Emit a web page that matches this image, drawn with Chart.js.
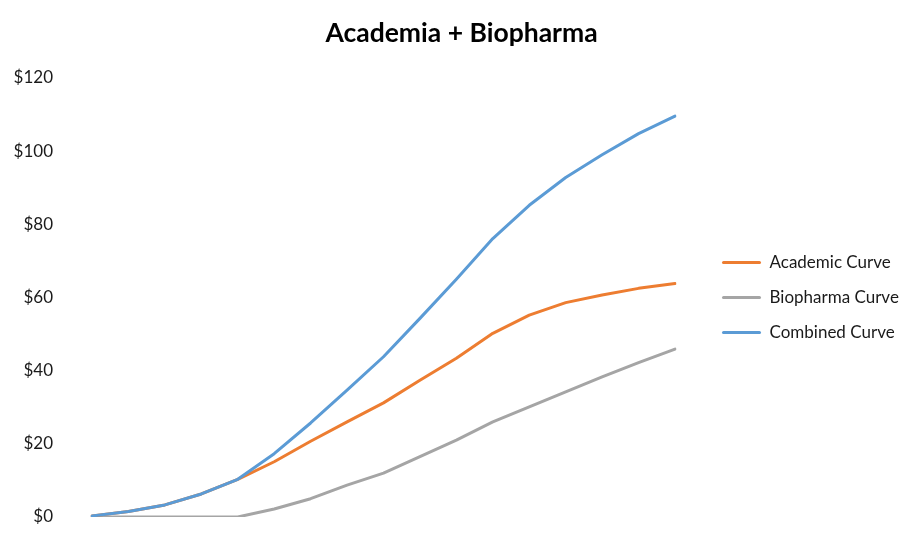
<!DOCTYPE html>
<html>
<head>
<meta charset="utf-8">
<script src="https://cdn.jsdelivr.net/npm/chart.js@4"></script>
<style>
  html, body { margin: 0; padding: 0; background: #fff; }
  #wrap { width: 923px; height: 541px; }
</style>
</head>
<body>
<div id="wrap"><canvas id="c" width="923" height="541"></canvas></div>
<script>
const categories = ['1','2','3','4','5','6','7','8','9','10','11','12','13','14','15','16','17'];
const academic   = [0.3, 1.5, 3.3, 6.3, 10.3, 15.1, 20.7, 26.0, 31.2, 37.4, 43.4, 50.2, 55.2, 58.6, 60.7, 62.5, 63.8];
const biopharma  = [0, 0, 0, 0, 0, 2.2, 5.0, 8.7, 12.0, 16.5, 21.0, 26.0, 30.1, 34.2, 38.3, 42.2, 45.9];
const combined   = [0.3, 1.5, 3.3, 6.3, 10.3, 17.3, 25.7, 34.7, 43.8, 54.3, 65.0, 76.1, 85.2, 92.8, 99.0, 104.8, 109.6];
const seriesNames = ['Academic Curve', 'Biopharma Curve', 'Combined Curve'];
const yTicks = [0, 20, 40, 60, 80, 100, 120];

const colors = ['#ED7D31', '#A5A5A5', '#5B9BD5'];
const FONT = 'Lato';
const TEXT = '#1a1a1a';

// Layout helpers (sizes, not data)
const PLOT_RIGHT = 675;      // right end of plotted series
const LEGEND_GAP = 29;       // gap between plot end and legend content

const legendGap = {
  id: 'legendGap',
  beforeLayout(chart) {
    const lg = chart.legend;
    if (!lg || lg._gapPatched) return;
    const fit = lg.fit;
    lg.fit = function () {
      fit.call(this);
      if (!this.isHorizontal()) this.width = chart.width - PLOT_RIGHT;
    };
    const drawName = typeof lg._draw === 'function' ? '_draw' : 'draw';
    const d = lg[drawName];
    lg[drawName] = function () {
      this.left += LEGEND_GAP;
      try { d.apply(this, arguments); } finally { this.left -= LEGEND_GAP; }
    };
    lg._gapPatched = true;
  }
};

const mk = (label, data, color, order) => ({
  label, data, borderColor: color, backgroundColor: color,
  borderWidth: 3, pointRadius: 0, pointHoverRadius: 0, tension: 0,
  borderCapStyle: 'round', borderJoinStyle: 'round', fill: false, order
});

new Chart(document.getElementById('c'), {
  type: 'line',
  data: {
    labels: categories,
    datasets: [
      mk(seriesNames[0], academic, colors[0], 1),
      mk(seriesNames[1], biopharma, colors[1], 2),
      mk(seriesNames[2], combined, colors[2], 0)
    ]
  },
  plugins: [legendGap],
  options: {
    responsive: false,
    animation: false,
    events: [],
    layout: { padding: { left: 0, right: 0, top: 0, bottom: 24 } },
    plugins: {
      title: {
        display: true,
        text: 'Academia + Biopharma',
        color: '#000',
        font: { family: FONT, size: 26.5, weight: 'bold' },
        padding: { top: 18, bottom: 28.2 }
      },
      legend: {
        position: 'right',
        align: 'center',
        fullSize: false,
        labels: {
          color: TEXT,
          font: { family: FONT, size: 17 },
          boxWidth: 39,
          boxHeight: 3,
          padding: 18,
          generateLabels: (chart) => chart.data.datasets.map((ds, i) => ({
            text: ds.label, fillStyle: ds.borderColor, strokeStyle: ds.borderColor,
            lineWidth: 0, hidden: false, datasetIndex: i, fontColor: TEXT,
            borderRadius: 1.5
          })),
          useBorderRadius: true,
          borderRadius: 1.5
        }
      },
      tooltip: { enabled: false }
    },
    scales: {
      x: { display: false, offset: false },
      y: {
        min: 0, max: 120,
        afterBuildTicks: (s) => { s.ticks = yTicks.map(v => ({ value: v })); },
        afterFit: (s) => { s.width = 92; },
        grid: { display: false, drawTicks: true, tickLength: 34 },
        border: { display: false },
        ticks: {
          padding: 5,
          color: TEXT,
          font: { family: FONT, size: 17 },
          callback: (v) => '$' + v
        }
      }
    }
  }
});
</script>
</body>
</html>
